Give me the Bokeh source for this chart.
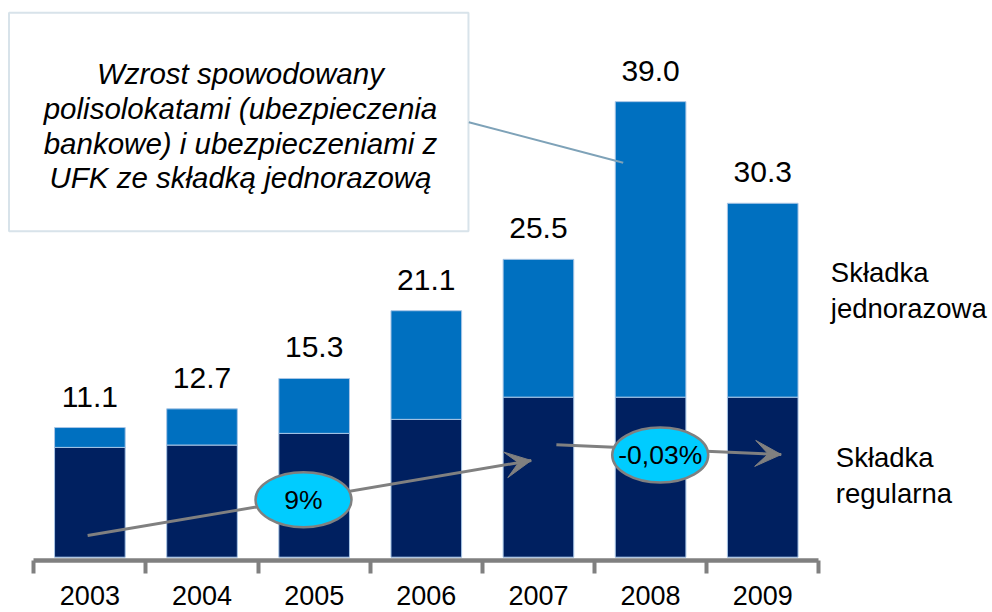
from bokeh.plotting import figure
from bokeh.models import (ColumnDataSource, Range1d, LinearAxis, FixedTicker,
                          BoxAnnotation, Arrow, VeeHead)
from bokeh.core.properties import value
from bokeh.embed import file_html
from bokeh.resources import INLINE

# ---- data ----
years = ["2003", "2004", "2005", "2006", "2007", "2008", "2009"]
totals = [11.1, 12.7, 15.3, 21.1, 25.5, 39.0, 30.3]
regular = [9.4, 9.6, 10.6, 11.8, 13.7, 13.7, 13.7]
total_labels = ["11.1", "12.7", "15.3", "21.1", "25.5", "39.0", "30.3"]
growth_labels = ["9%", "-0,03%"]
series_labels = ["Składka\nregularna", "Składka\njednorazowa"]
note_text = ("Wzrost spowodowany\npolisolokatami (ubezpieczenia\n"
             "bankowe) i ubezpieczeniami z\nUFK ze składką jednorazową")

single = [round(t - r, 2) for t, r in zip(totals, regular)]
xs = list(range(len(years)))

# ---- styles ----
FONT = "Liberation Sans"
DARK = "#002060"
LIGHT = "#0070C0"
GRAY = "#808080"
NOTE = "#7EA2B8"
CYAN = "#00CCFF"

p = figure(width=992, height=612, output_backend="svg", toolbar_location=None,
           x_range=Range1d(-0.797, 8.049), y_range=Range1d(-4.735, 47.66),
           x_axis_type=None, y_axis_type=None, min_border=0,
           outline_line_color=None)
p.background_fill_color = "white"
p.border_fill_color = "white"

src = ColumnDataSource(dict(x=xs, regular=regular, single=single,
                            total=totals, label=total_labels))

p.vbar_stack(["regular", "single"], x="x", width=0.63, source=src,
             fill_color=[DARK, LIGHT], line_color="#a9c6e6", line_width=1)

p.text(x="x", y="total", text="label", source=src, y_offset=-31,
       text_align="center", text_baseline="alphabetic",
       text_font=value(FONT), text_font_size="30px", text_color="black")

# x axis with category-boundary ticks
ax = LinearAxis(
    ticker=FixedTicker(ticks=xs, minor_ticks=[i - 0.5 for i in range(len(years) + 1)]),
    major_label_overrides={i: y for i, y in enumerate(years)},
    bounds=(-0.5, len(years) - 0.5), fixed_location=-0.28,
    axis_line_color=GRAY, axis_line_width=4.5,
    major_tick_line_color=None, major_tick_in=0, major_tick_out=0,
    minor_tick_line_color=GRAY, minor_tick_line_width=4,
    minor_tick_in=0, minor_tick_out=13,
    major_label_standoff=13, major_label_text_font=FONT,
    major_label_text_font_size="27px", major_label_text_color="black")
p.add_layout(ax, "below")

# note box
box = BoxAnnotation(left=-0.721, right=3.376, top=46.61, bottom=27.91,
                    fill_color=None, line_color=NOTE, line_width=2)
p.add_layout(box)
p.text(x=[1.343], y=[36.94], text=[note_text], text_align="center",
       text_baseline="middle", text_font=value(FONT), text_font_style="italic",
       text_font_size="29.5px", text_line_height=1.05, text_color="black")
p.segment(x0=[3.379], y0=[37.24], x1=[4.756], y1=[33.77],
          line_color=NOTE, line_width=2)

# growth arrows
ax0 = [-0.02, 4.16]
ay0 = [1.85, 9.62]
ax1 = [3.936, 6.165]
ay1 = [8.28, 8.79]
p.segment(x0=ax0, y0=ay0, x1=ax1, y1=ay1, line_color=GRAY, line_width=3)
for i in range(2):
    p.add_layout(Arrow(end=VeeHead(size=26, fill_color=GRAY, line_color=GRAY, line_width=1),
                       x_start=ax0[i], y_start=ay0[i], x_end=ax1[i], y_end=ay1[i],
                       line_alpha=0))

ex = [1.905, 5.086]
ey = [4.923, 8.75]
p.ellipse(x=ex, y=ey, width=96, height=55, width_units="screen",
          height_units="screen", fill_color=CYAN, line_color=GRAY, line_width=2.5)
p.text(x=ex, y=ey, text=growth_labels, text_align="center", text_baseline="middle",
       text_font=value(FONT), text_font_size="26.5px", text_color="black")

# series labels on the right
p.text(x=[6.5, 6.5], y=[25.7, 9.85], x_offset=[12, 17],
       text=[series_labels[1], series_labels[0]], text_align="left",
       text_baseline="top", text_font=value(FONT), text_font_size="27.5px",
       text_line_height=1.17, text_color="black")

open("out.html", "w").write(file_html(p, INLINE))
